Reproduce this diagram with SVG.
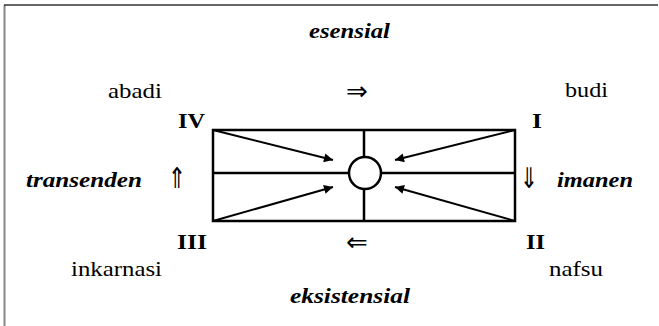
<svg xmlns="http://www.w3.org/2000/svg" width="659" height="326" viewBox="0 0 659 326">
<style>
  text { font-family: "Liberation Serif", "Times New Roman", "DejaVu Serif", serif; font-size: 22px; fill: #000; }
  .bi { font-weight: bold; font-style: italic; }
  .b { font-weight: bold; }
  .sym { font-family: "DejaVu Sans", sans-serif; font-size: 26px; text-anchor: middle; }
  .vsym { font-family: "DejaVu Sans", sans-serif; font-size: 22px; text-anchor: middle; }
  .line { stroke: #000; stroke-width: 2.5; fill: none; }
  .arrow { stroke: #000; stroke-width: 2; fill: none; marker-end: url(#ah); }
</style>
<defs>
  <marker id="ah" viewBox="0 0 10 10" refX="10" refY="5" markerWidth="5.5" markerHeight="4.5" orient="auto" markerUnits="strokeWidth">
    <path d="M0,0 L10,5 L0,10 z" fill="#000"/>
  </marker>
</defs>
<rect width="659" height="326" fill="#fff"/>
<g id="frame">
  <line x1="4.5" y1="5" x2="4.5" y2="326" stroke="#888" stroke-width="2"/>
  <line x1="4" y1="5" x2="658" y2="5" stroke="#333" stroke-width="1.5"/>
</g>
<g id="connectors">
  <line class="arrow" x1="213" y1="130" x2="333" y2="160"/>
  <line class="arrow" x1="515" y1="130" x2="395" y2="160"/>
  <line class="arrow" x1="213" y1="221" x2="333" y2="187"/>
  <line class="arrow" x1="515" y1="221" x2="395" y2="187"/>
</g>
<g id="diagram">
  <rect class="line" x="213" y="130" width="302" height="91"/>
  <line class="line" x1="364" y1="130" x2="364" y2="157"/>
  <line class="line" x1="364" y1="189" x2="364" y2="221"/>
  <line class="line" x1="213" y1="173" x2="349" y2="173"/>
  <line class="line" x1="381" y1="173" x2="515" y2="173"/>
  <circle id="center" class="line" cx="365" cy="173" r="16"/>
</g>
<g id="top">
  <text class="bi" x="309" y="38" textLength="81" lengthAdjust="spacingAndGlyphs">esensial</text>
  <text x="108" y="98" textLength="54" lengthAdjust="spacingAndGlyphs">abadi</text>
  <text class="sym" x="357" y="100">⇒</text>
  <text x="565" y="97" textLength="43" lengthAdjust="spacingAndGlyphs">budi</text>
</g>
<g id="node-IV"><text class="b" x="178" y="128" textLength="27" lengthAdjust="spacingAndGlyphs">IV</text></g>
<g id="node-I"><text class="b" x="532" y="128" textLength="10" lengthAdjust="spacingAndGlyphs">I</text></g>
<g id="left">
  <text class="bi" x="26" y="187" textLength="116" lengthAdjust="spacingAndGlyphs">transenden</text>
  <text class="vsym" transform="translate(177,188) scale(1,1.3)">⇑</text>
</g>
<g id="right">
  <text class="vsym" transform="translate(529,188) scale(1,1.3)">⇓</text>
  <text class="bi" x="557" y="187" textLength="76" lengthAdjust="spacingAndGlyphs">imanen</text>
</g>
<g id="node-III"><text class="b" x="177" y="249" textLength="30" lengthAdjust="spacingAndGlyphs">III</text></g>
<g id="node-II"><text class="b" x="526" y="249" textLength="19" lengthAdjust="spacingAndGlyphs">II</text></g>
<g id="bottom">
  <text class="sym" x="357" y="251">⇐</text>
  <text x="71" y="276" textLength="91" lengthAdjust="spacingAndGlyphs">inkarnasi</text>
  <text x="549" y="276" textLength="54" lengthAdjust="spacingAndGlyphs">nafsu</text>
  <text class="bi" x="290" y="303" textLength="120" lengthAdjust="spacingAndGlyphs">eksistensial</text>
</g>
</svg>
